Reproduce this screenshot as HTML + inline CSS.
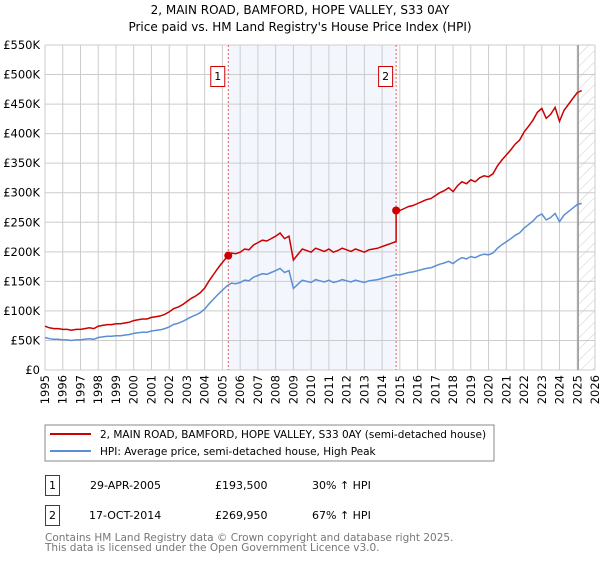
<!DOCTYPE html>
<html><head><meta charset="utf-8"><style>
body{margin:0;background:#fff;width:600px;height:560px;overflow:hidden;font-family:"DejaVu Sans","Liberation Sans",sans-serif;}
svg text{font-family:"DejaVu Sans","Liberation Sans",sans-serif;}
</style></head><body>
<svg id="c" width="600" height="560" xmlns="http://www.w3.org/2000/svg">
<defs><pattern id="hatch" width="8" height="8" patternUnits="userSpaceOnUse" patternTransform="rotate(45)"><line x1="0" y1="0" x2="0" y2="8" stroke="#ccc" stroke-width="1"/></pattern></defs>
<text x="300" y="14" text-anchor="middle" font-size="12">2, MAIN ROAD, BAMFORD, HOPE VALLEY, S33 0AY</text>
<text x="300" y="31" text-anchor="middle" font-size="12">Price paid vs. HM Land Registry's House Price Index (HPI)</text>
<g id="plot"></g>
<rect x="45" y="425" width="449" height="36" fill="#fff" stroke="#888"/>
<line x1="50" y1="434" x2="91" y2="434" stroke="#cc0000" stroke-width="2"/>
<text x="100" y="438" font-size="10.5">2, MAIN ROAD, BAMFORD, HOPE VALLEY, S33 0AY (semi-detached house)</text>
<line x1="50" y1="451" x2="91" y2="451" stroke="#5b8fd4" stroke-width="2"/>
<text x="100" y="455" font-size="10.5">HPI: Average price, semi-detached house, High Peak</text>
<g font-size="11">
<rect x="45.5" y="475.5" width="14" height="20" fill="none" stroke="#cc0000"/>
<text x="52.5" y="489" text-anchor="middle">1</text>
<text x="90" y="489">29-APR-2005</text>
<text x="215" y="489">£193,500</text>
<text x="312" y="489">30% ↑ HPI</text>
<rect x="45.5" y="505.5" width="14" height="20" fill="none" stroke="#cc0000"/>
<text x="52.5" y="519" text-anchor="middle">2</text>
<text x="89" y="519">17-OCT-2014</text>
<text x="215" y="519">£269,950</text>
<text x="312" y="519">67% ↑ HPI</text>
</g>
<text x="45" y="541" font-size="10.5" fill="#777">Contains HM Land Registry data © Crown copyright and database right 2025.</text>
<text x="45" y="551" font-size="10.5" fill="#777">This data is licensed under the Open Government Licence v3.0.</text>
</svg>
<script>
const yearTicks=[1995,1996,1997,1998,1999,2000,2001,2002,2003,2004,2005,2006,2007,2008,2009,2010,2011,2012,2013,2014,2015,2016,2017,2018,2019,2020,2021,2022,2023,2024,2025,2026];
const priceTicks=[0,50000,100000,150000,200000,250000,300000,350000,400000,450000,500000,550000];
const priceTickLabels=["£0","£50K","£100K","£150K","£200K","£250K","£300K","£350K","£400K","£450K","£500K","£550K"];
const hpiStart=1995;
const hpiQuarterly=[55,53,52,52,51,51,50,51,51,52,53,52,55,56,57,57,58,58,59,60,62,63,64,64,66,67,68,70,73,77,79,82,86,90,93,97,103,112,120,128,135,142,147,146,148,152,151,157,160,163,162,165,168,172,165,168,138,145,152,150,148,153,151,149,152,148,150,153,151,149,152,150,148,151,152,153,155,157,159,161,161,163,165,166,168,170,172,173,176,179,181,184,180,186,190,188,192,190,194,196,195,198,206,212,217,222,228,232,240,246,252,260,264,254,258,265,251,262,268,274,280,282];
const saleDates=[2005.33,2014.79];
const salePrices=[193500,269950];
const saleLabels=["1","2"];
const dataEnd=2025.05;

const X0=45,X1=595,Y0=370,Y1=45,T0=1995,T1=2026,VMAX=550000;
const xs=t=>X0+(t-T0)/(T1-T0)*(X1-X0);
const ys=v=>Y0-v/VMAX*(Y0-Y1);
const NS="http://www.w3.org/2000/svg";
const g=document.getElementById('plot');
function mk(tag,attrs){const e=document.createElementNS(NS,tag);for(const k in attrs)e.setAttribute(k,attrs[k]);g.appendChild(e);return e;}
function hpiAt(t){const i=(t-hpiStart)*4;const a=Math.floor(i),f=i-a;const v0=hpiQuarterly[Math.max(0,Math.min(a,hpiQuarterly.length-1))],v1=hpiQuarterly[Math.max(0,Math.min(a+1,hpiQuarterly.length-1))];return (v0+(v1-v0)*f)*1000;}

let e;
e=mk('rect',{x:X0,y:Y1,width:X1-X0,height:Y0-Y1,fill:'#fff'});


e=mk('rect',{x:xs(saleDates[0]),y:Y1,width:xs(saleDates[1])-xs(saleDates[0]),height:Y0-Y1,fill:'#eef3fc',opacity:0.7});


e=mk('rect',{x:xs(dataEnd),y:Y1,width:X1-xs(dataEnd),height:Y0-Y1,fill:'url(#hatch)'});


yearTicks.forEach(yr=>{
 e=mk('line',{x1:xs(yr),x2:xs(yr),y1:Y1,y2:Y0,stroke:'#ccc','stroke-width':1});
 
 
 e=mk('text',{x:0,y:0,transform:`translate(${xs(yr)+4},${Y0+5}) rotate(-90)`,'text-anchor':'end','font-size':11.5});
 e.textContent=yr;
 
 
});
priceTicks.forEach((v,i)=>{
 e=mk('line',{x1:X0,x2:X1,y1:ys(v),y2:ys(v),stroke:'#ccc','stroke-width':1});
 
 
 e=mk('text',{x:40,y:ys(v)+4,'text-anchor':'end','font-size':11.5});
 e.textContent=priceTickLabels[i];
 
 
});
e=mk('line',{x1:xs(dataEnd),x2:xs(dataEnd),y1:Y1,y2:Y0,stroke:'#999','stroke-width':1.5});


saleDates.forEach((d,i)=>{
 e=mk('line',{x1:xs(d),x2:xs(d),y1:Y1,y2:Y0,stroke:'#e06060','stroke-width':1,'stroke-dasharray':'2,2'});
 
 
 e=mk('rect',{x:xs(d)-17.5,y:66.5,width:14,height:20,fill:'#fff',stroke:'#cc0000'});
 
 
 e=mk('text',{x:xs(d)-10.5,y:80,'text-anchor':'middle','font-size':11});
 e.textContent=saleLabels[i];
 
 
});
let hp=hpiQuarterly.map((v,i)=>`${xs(hpiStart+i/4).toFixed(1)},${ys(v*1000).toFixed(1)}`).join(' ');
e=mk('polyline',{points:hp,fill:'none',stroke:'#5b8fd4','stroke-width':1.5});


const r1=salePrices[0]/hpiAt(saleDates[0]),r2=salePrices[1]/hpiAt(saleDates[1]);
let pts=[];
hpiQuarterly.forEach((v,i)=>{const t=hpiStart+i/4;
 if(t<saleDates[1]) pts.push([t,v*1000*r1]);
 else {if(pts.length&&pts[pts.length-1][0]<saleDates[1]){pts.push([saleDates[1],hpiAt(saleDates[1])*r1]);pts.push([saleDates[1],salePrices[1]]);} pts.push([t,v*1000*r2]);}
});
e=mk('polyline',{points:pts.map(p=>`${xs(p[0]).toFixed(1)},${ys(p[1]).toFixed(1)}`).join(' '),fill:'none',stroke:'#cc0000','stroke-width':1.5});


saleDates.forEach((d,i)=>{
 e=mk('circle',{cx:xs(d),cy:ys(salePrices[i]),r:4,fill:'#cc0000'});
 
 
});
</script>
</body></html>
